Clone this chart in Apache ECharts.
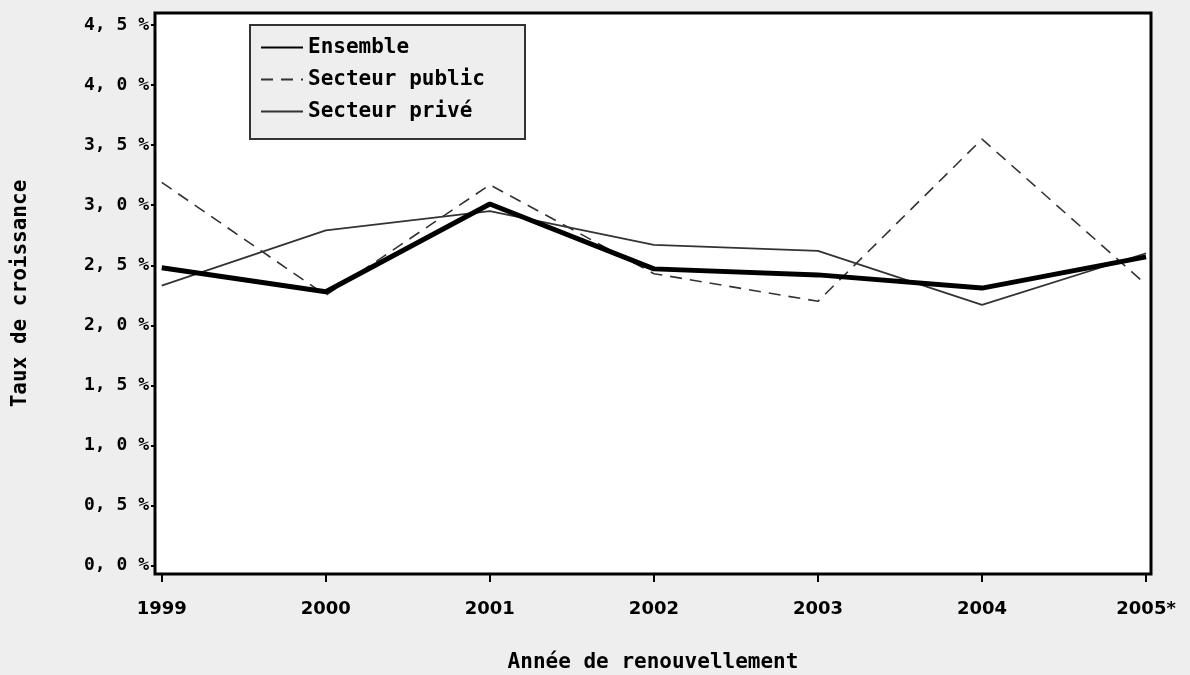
<!DOCTYPE html>
<html>
<head>
<meta charset="utf-8">
<script src="https://cdn.jsdelivr.net/npm/echarts@6/dist/echarts.min.js"></script>
<style>
  html, body { margin: 0; padding: 0; background: #eeeeee; }
  #chart { width: 1190px; height: 675px; }
</style>
</head>
<body>
<div id="chart"></div>
<script>
// Taux de croissance par année de renouvellement
const YEARS = [1999, 2000, 2001, 2002, 2003, 2004, 2005];
const YEAR_LABELS = ['1999', '2000', '2001', '2002', '2003', '2004', '2005*'];
const Y_TICKS = [0, 0.5, 1, 1.5, 2, 2.5, 3, 3.5, 4, 4.5];

const ENSEMBLE = [2.48, 2.28, 3.01, 2.47, 2.42, 2.31, 2.57];
const PUBLIC = [3.19, 2.25, 3.17, 2.43, 2.20, 3.55, 2.34];
const PRIVE = [2.33, 2.79, 2.95, 2.67, 2.62, 2.17, 2.60];

const MONO = '"DejaVu Sans Mono", "Liberation Mono", monospace';
const SANS = '"DejaVu Sans", "Liberation Sans", sans-serif';
const TEXT = { fontFamily: MONO, fontSize: 21, fontWeight: 'bold', color: '#000' };

const pairs = (vals) => YEARS.map((y, i) => [y, vals[i]]);

const chart = echarts.init(document.getElementById('chart'));
chart.setOption({
  backgroundColor: '#eeeeee',
  animation: false,
  grid: {
    left: 155, right: 39, top: 13, bottom: 101,
    outerBoundsMode: 'none',
    containLabel: false,
    show: true,
    backgroundColor: '#ffffff',
    borderColor: '#000',
    borderWidth: 3,
  },
  legend: {
    orient: 'vertical',
    left: 250,
    top: 25,
    padding: [12, 40, 17, 10],
    itemWidth: 42,
    itemHeight: 16,
    itemGap: 11,
    itemStyle: { opacity: 0 },
    backgroundColor: '#eeeeee',
    borderColor: '#333',
    borderWidth: 2,
    borderRadius: 0,
    textStyle: { ...TEXT, lineHeight: 21 },
    data: ['Ensemble', 'Secteur public', 'Secteur privé'],
  },
  xAxis: {
    type: 'value',
    min: 1998.959,
    max: 2005.03,
    name: 'Année de renouvellement',
    nameLocation: 'middle',
    nameGap: 78,
    nameTextStyle: TEXT,
    splitLine: { show: false },
    axisLine: { show: false, onZero: false },
    axisTick: {
      show: true, customValues: YEARS, length: 8,
      lineStyle: { color: '#000', width: 2 },
    },
    axisLabel: {
      fontFamily: SANS, fontSize: 18, fontWeight: 'bold', color: '#000',
      customValues: YEARS,
      margin: 26,
      formatter: (v) => YEAR_LABELS[YEARS.indexOf(Math.round(v))],
    },
  },
  yAxis: {
    type: 'value',
    min: -0.07,
    max: 4.6,
    name: 'Taux de croissance',
    nameLocation: 'middle',
    nameGap: 124,
    nameTextStyle: TEXT,
    splitLine: { show: false },
    axisLine: { show: false, onZero: false },
    axisTick: {
      show: true, customValues: Y_TICKS, length: 4,
      lineStyle: { color: '#000', width: 2 },
    },
    axisLabel: {
      fontFamily: MONO, fontSize: 18, fontWeight: 'bold', color: '#000',
      customValues: Y_TICKS,
      margin: 6,
      formatter: (v) => v.toFixed(1).replace('.', ', ') + ' %',
    },
  },
  series: [
    {
      name: 'Ensemble', type: 'line', symbol: 'none', z: 4,
      data: pairs(ENSEMBLE),
      lineStyle: { color: '#000', width: 5 },
      itemStyle: { color: '#000' },
    },
    {
      name: 'Secteur public', type: 'line', symbol: 'none', z: 3,
      data: pairs(PUBLIC),
      lineStyle: { color: '#333', width: 1.6, type: [12, 8] },
      itemStyle: { color: '#333' },
    },
    {
      name: 'Secteur privé', type: 'line', symbol: 'none', z: 3,
      data: pairs(PRIVE),
      lineStyle: { color: '#333', width: 1.8 },
      itemStyle: { color: '#333' },
    },
  ],
});
</script>
</body>
</html>
